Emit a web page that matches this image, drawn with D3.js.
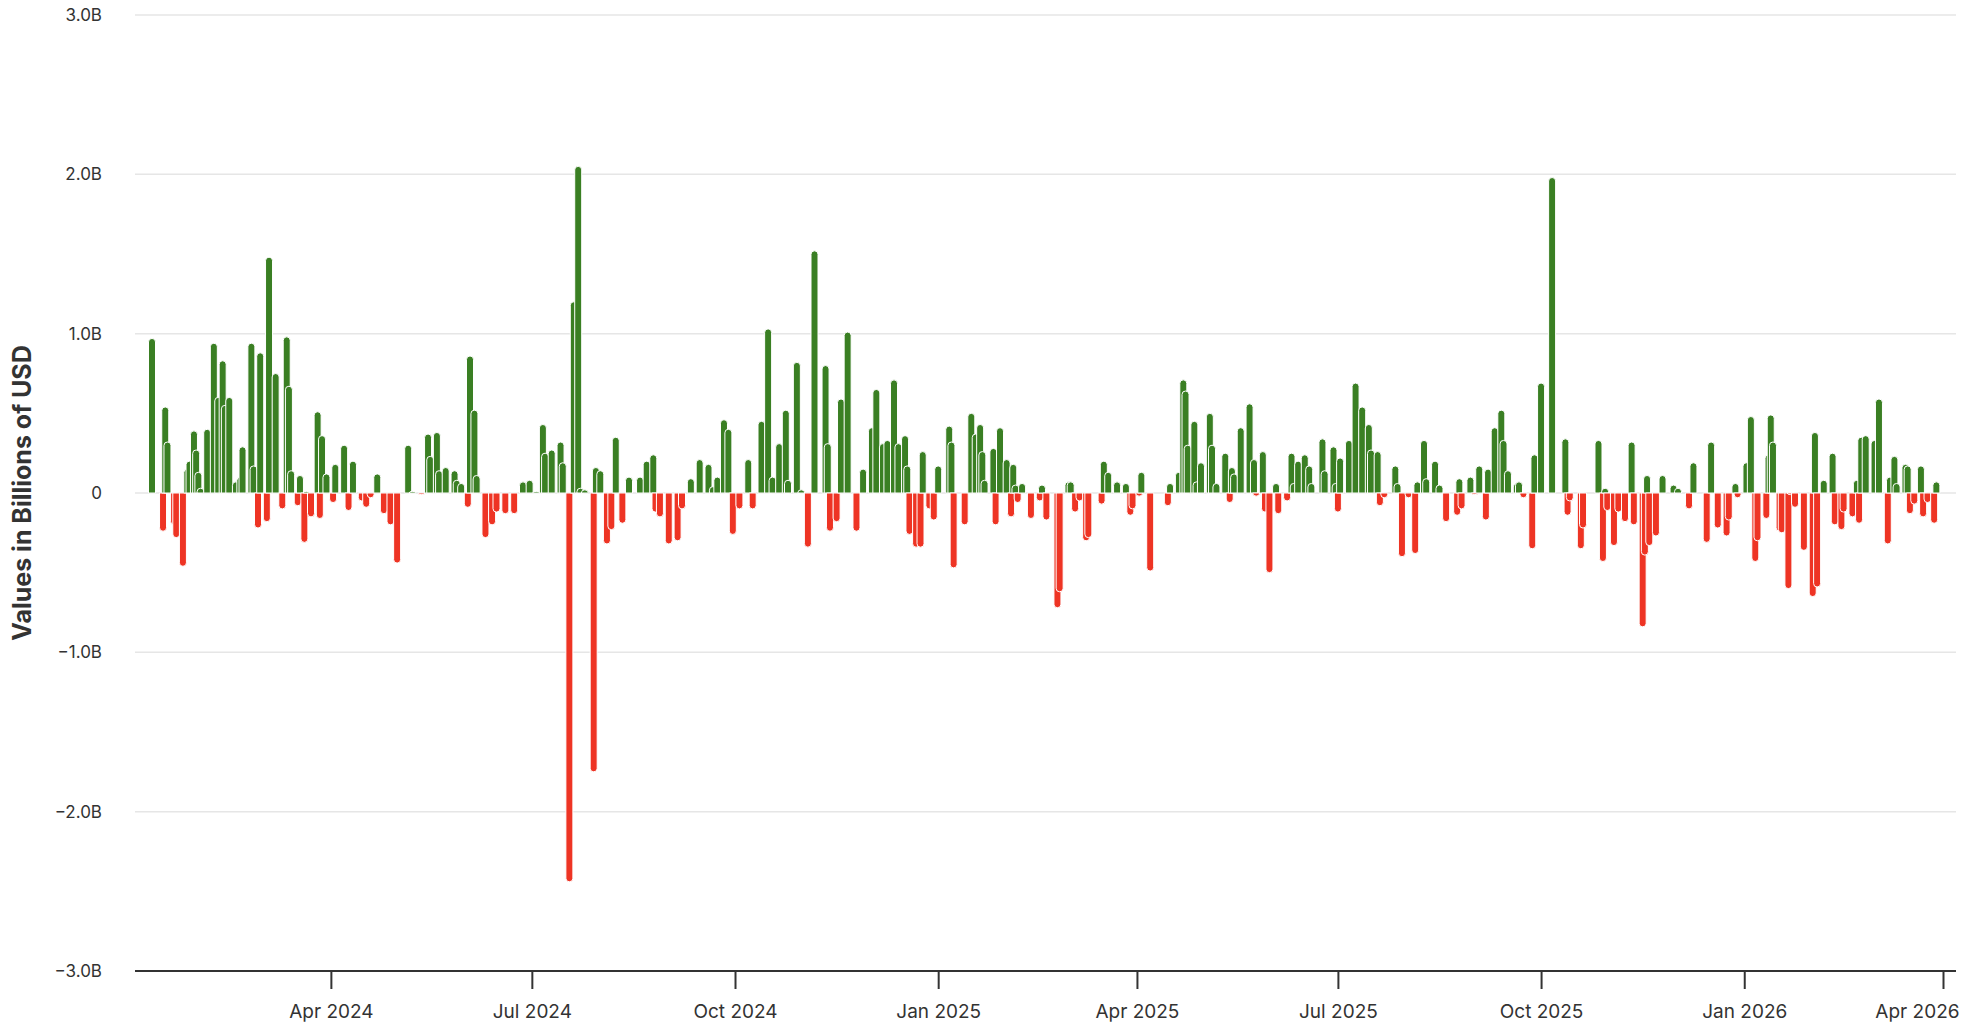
<!DOCTYPE html>
<html>
<head>
<meta charset="utf-8">
<script src="https://cdn.jsdelivr.net/npm/d3@7"></script>
<style>
  body { margin: 0; background: #fff; }
  text { font-family: "Inter", "Roboto", sans-serif; }
</style>
</head>
<body>
<div id="chart"></div>
<script>
// Days since the first trading day (11 Jan 2024) and the flow that day, in billions of USD
const startDate = new Date(2024, 0, 11);
const dayOffsets = [
  0,5,6,7,10,11,14,16,17,19,20,21,22,25,28,30,32,33,35,38,40,41,45,46,48,49,52,53,56,59,61,62,63,66,67,69,70,72,75,76,77,79,82,83,87,89,91,95,97,99,102,105,108,111,116,118,122,125,126,129,130,133,137,138,140,143,144,146,147,151,154,156,160,164,168,171,174,177,178,181,185,186,189,191,193,194,196,200,201,203,206,
  208,210,213,216,221,224,227,228,230,234,238,240,244,248,252,254,256,259,261,263,266,270,272,276,279,281,284,287,288,292,294,297,300,305,306,307,310,312,315,319,322,326,328,331,333,336,338,341,342,343,346,348,349,352,354,356,361,362,363,368,371,373,375,376,377,381,382,384,387,389,390,391,392,394,398,402,403,405,410,411,415,
  416,418,420,423,424,430,431,433,437,441,443,444,447,448,452,460,461,465,467,468,469,472,473,475,479,480,482,486,488,489,490,493,497,499,500,503,504,506,509,510,514,516,517,519,522,524,525,530,531,535,536,537,538,542,545,548,551,552,555,556,558,563,564,566,569,572,573,576,577,581,583,586,591,592,593,597,599,601,604,605,608,611,612,614,618,
  619,621,625,626,629,634,640,641,642,647,648,655,657,658,659,662,664,667,670,671,675,676,677,678,681,684,689,691,696,698,704,706,709,713,714,717,718,722,724,726,727,731,732,733,734,737,738,741,742,744,748,752,753,754,757,761,762,765,766,770,772,773,774,776,780,782,786,787,789,790,794,795,796,798,801,802,804,807,808
];
const flows = [
  0.97,-0.24,0.54,0.32,-0.2,-0.28,-0.46,0.15,0.2,0.39,0.27,0.13,0.03,0.4,0.94,0.6,0.83,0.55,0.6,0.07,0.1,0.29,0.94,0.17,-0.22,0.88,-0.18,1.48,0.75,-0.1,0.98,0.67,0.14,-0.08,0.11,-0.31,0.01,-0.15,0.51,-0.16,0.36,0.12,-0.06,0.18,0.3,-0.11,0.2,-0.05,-0.09,-0.03,0.12,-0.13,-0.2,-0.44,0.3,0.01,-0.01,0.37,0.23,0.38,0.14,0.16,0.14,0.08,0.06,-0.09,0.86,0.52,0.11,-0.28,-0.2,-0.12,-0.13,-0.13,0.07,0.08,0.01,0.43,0.25,0.27,0.32,0.19,-2.44,1.2,2.05,0.03,0.02,-1.75,0.16,0.14,-0.32,
  -0.23,0.35,-0.19,0.1,0.1,0.2,0.24,-0.12,-0.15,-0.32,-0.3,-0.1,0.09,0.21,0.18,0.04,0.1,0.46,0.4,-0.26,-0.1,0.21,-0.1,0.45,1.03,0.1,0.31,0.52,0.08,0.82,0.02,-0.34,1.52,0.8,0.31,-0.24,-0.18,0.59,1.01,-0.24,0.15,0.41,0.65,0.31,0.33,0.71,0.31,0.36,0.17,-0.26,-0.34,-0.34,0.26,-0.1,-0.17,0.17,0.42,0.32,-0.47,-0.2,0.5,0.37,0.43,0.26,0.08,0.28,-0.2,0.41,0.21,-0.15,0.18,0.05,-0.06,0.06,-0.16,-0.05,0.05,-0.17,-0.72,-0.62,0.07,
  0.07,-0.12,-0.05,-0.3,-0.28,-0.07,0.2,0.13,0.07,0.06,-0.14,-0.1,-0.02,0.13,-0.49,-0.08,0.06,0.13,0.71,0.64,0.3,0.45,0.07,0.19,0.5,0.3,0.06,0.25,-0.06,0.16,0.12,0.41,0.56,0.21,-0.02,0.26,-0.12,-0.5,0.06,-0.13,-0.05,0.25,0.06,0.2,0.24,0.17,0.06,0.34,0.14,0.29,0.06,-0.12,0.22,0.33,0.69,0.54,0.43,0.27,0.26,-0.08,-0.03,0.17,0.06,-0.4,-0.03,-0.38,0.07,0.33,0.09,0.2,0.05,-0.18,-0.14,0.09,-0.1,0.1,-0.01,0.17,-0.17,0.15,0.41,0.52,0.33,0.14,0.06,
  0.07,-0.03,-0.35,0.24,0.69,1.98,0.34,-0.14,-0.05,-0.35,-0.22,0.33,-0.43,0.03,-0.11,-0.33,-0.12,-0.18,0.32,-0.2,-0.84,-0.39,0.11,-0.33,-0.27,0.11,0.05,0.03,-0.1,0.19,-0.31,0.32,-0.22,-0.27,-0.17,0.06,-0.03,0.19,0.48,-0.43,-0.3,-0.16,0.24,0.49,0.32,-0.24,-0.25,-0.6,-0.01,-0.09,-0.36,-0.65,0.38,-0.59,0.08,0.25,-0.2,-0.23,-0.12,-0.15,0.08,-0.19,0.35,0.36,0.33,0.59,-0.32,0.1,0.23,0.06,0.18,0.17,-0.13,-0.07,0.17,-0.15,-0.06,-0.19,0.07
];
const yTicks = [-3, -2, -1, 0, 1, 2, 3];
const xTickDates = [new Date(2024,3,1), new Date(2024,6,1), new Date(2024,9,1), new Date(2025,0,1),
  new Date(2025,3,1), new Date(2025,6,1), new Date(2025,9,1), new Date(2026,0,1), new Date(2026,3,1)];

const n = Math.min(dayOffsets.length, flows.length);
const data = dayOffsets.slice(0, n).map((d, i) => ({ date: d3.timeDay.offset(startDate, d), value: flows[i] }));

const W = 1972, H = 1032;
const plotLeft = 135, plotRight = 1956, plotTop = 15, plotBottom = 971;

const svg = d3.select('#chart').append('svg')
  .attr('width', W).attr('height', H);

const x = d3.scaleTime()
  .domain([startDate, new Date(2026, 3, 1)])
  .range([152, 1943]);

const y = d3.scaleLinear().domain([-3, 3]).range([plotBottom, plotTop]);

// grid
svg.append('g').selectAll('line')
  .data(yTicks.filter(d => d !== -3))
  .enter().append('line')
  .attr('x1', plotLeft).attr('x2', plotRight)
  .attr('y1', d => y(d)).attr('y2', d => y(d))
  .attr('stroke', '#e6e6e6').attr('stroke-width', 1.5);

const fmt = d => d === 0 ? '0' : d3.format('.1f')(d) + 'B';
svg.append('g').selectAll('text')
  .data(yTicks)
  .enter().append('text')
  .attr('x', 102).attr('y', d => y(d) + 6)
  .attr('text-anchor', 'end')
  .attr('font-size', '17px').attr('fill', '#333')
  .text(fmt);

svg.append('text')
  .attr('transform', `translate(31, ${y(0)}) rotate(-90)`)
  .attr('text-anchor', 'middle')
  .attr('font-size', '25px').attr('font-weight', 'bold').attr('fill', '#333')
  .text('Values in Billions of USD');

// bars: rounded outer end, white outline so they overlap like the original
const bw = 7, r = 3.5;
function barPath(d) {
  const cx = x(d.date), x0 = cx - bw / 2, x1 = cx + bw / 2, y0 = y(0), yv = y(d.value);
  const h = Math.abs(yv - y0);
  const rr = Math.min(r, h);
  if (d.value >= 0) {
    return `M${x0},${y0}V${yv + rr}A${r},${rr} 0 0 1 ${x1},${yv + rr}V${y0}Z`;
  }
  return `M${x0},${y0}V${yv - rr}A${r},${rr} 0 0 0 ${x1},${yv - rr}V${y0}Z`;
}
svg.append('g').selectAll('path')
  .data(data)
  .enter().append('path')
  .attr('d', barPath)
  .attr('fill', d => d.value >= 0 ? '#3a7f23' : '#ee3424')
  .attr('stroke', '#fff').attr('stroke-width', 1);

// bottom axis
svg.append('line')
  .attr('x1', plotLeft).attr('x2', plotRight)
  .attr('y1', plotBottom).attr('y2', plotBottom)
  .attr('stroke', '#333').attr('stroke-width', 2);

const xAxis = svg.append('g')
  .attr('transform', `translate(0,${plotBottom})`)
  .call(d3.axisBottom(x).tickValues(xTickDates).tickSize(18).tickSizeOuter(0)
    .tickFormat(d3.timeFormat('%b %Y')));
xAxis.select('.domain').remove();
xAxis.selectAll('line').attr('stroke', '#333').attr('stroke-width', 2);
xAxis.selectAll('text').attr('font-size', '19px').attr('fill', '#333').attr('dy', '1.35em')
  .attr('font-family', 'Inter, Roboto, sans-serif');
// last label sits against the right edge
xAxis.selectAll('.tick:last-of-type text').attr('text-anchor', 'end').attr('dx', '16');
</script>
</body>
</html>
